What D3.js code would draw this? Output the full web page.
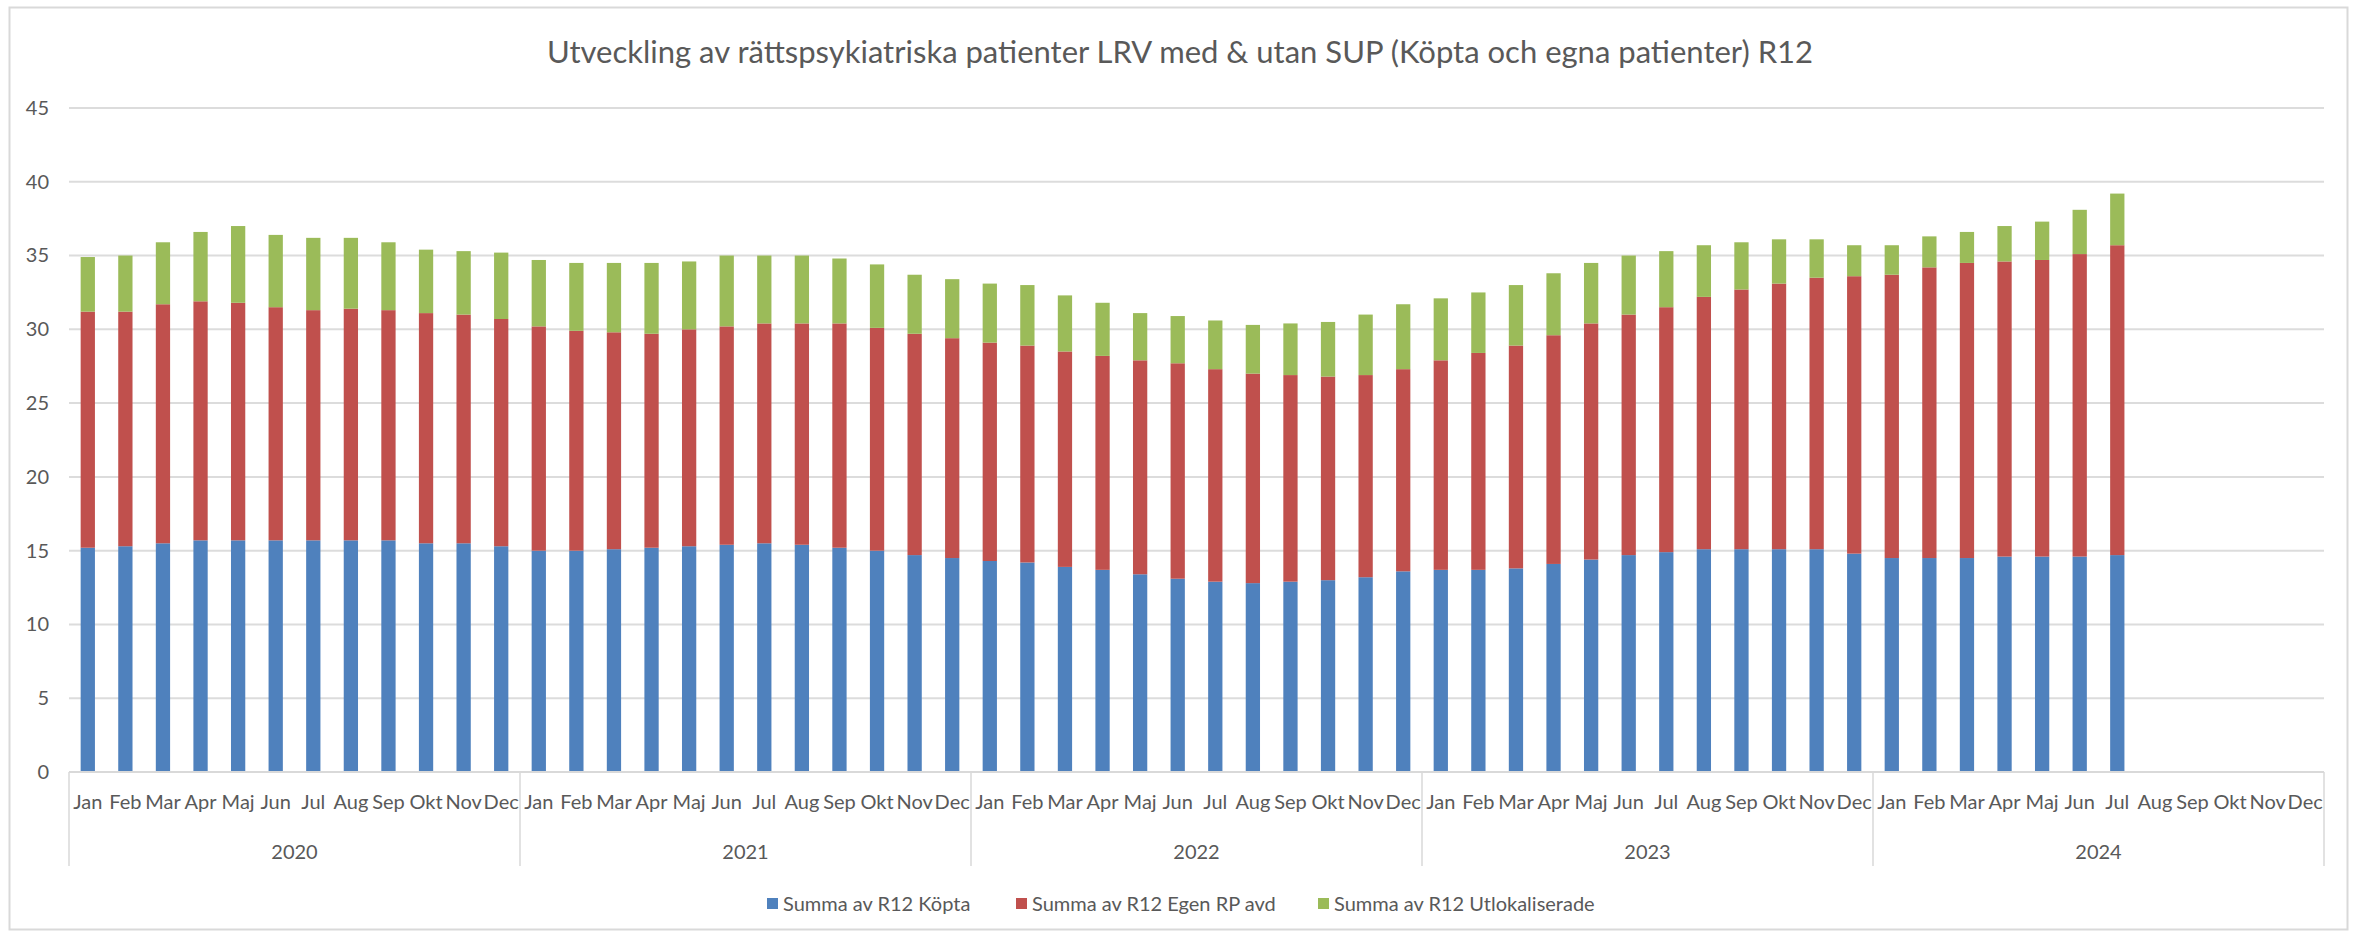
<!DOCTYPE html>
<html>
<head>
<meta charset="utf-8">
<script src="https://cdn.jsdelivr.net/npm/d3@7"></script>
<style>
  body { margin: 0; background: #fff; }
  text { font-family: Lato, "Liberation Sans", sans-serif; fill: #595959; }
</style>
</head>
<body>
<div id="chart"></div>
<script>
// categories
var years = ["2020", "2021", "2022", "2023", "2024"];
var months = ["Jan","Feb","Mar","Apr","Maj","Jun","Jul","Aug","Sep","Okt","Nov","Dec"];

// series values, Jan 2020 - Jul 2024
var kopta = [
  15.2,15.3,15.5,15.7,15.7,15.7,15.7,15.7,15.7,15.5,15.5,15.3,
  15.0,15.0,15.1,15.2,15.3,15.4,15.5,15.4,15.2,15.0,14.7,14.5,
  14.3,14.2,13.9,13.7,13.4,13.1,12.9,12.8,12.9,13.0,13.2,13.6,
  13.7,13.7,13.8,14.1,14.4,14.7,14.9,15.1,15.1,15.1,15.1,14.8,
  14.5,14.5,14.5,14.6,14.6,14.6,14.7
];
var egenRP = [
  16.0,15.9,16.2,16.2,16.1,15.8,15.6,15.7,15.6,15.6,15.5,15.4,
  15.2,14.9,14.7,14.5,14.7,14.8,14.9,15.0,15.2,15.1,15.0,14.9,
  14.8,14.7,14.6,14.5,14.5,14.6,14.4,14.2,14.0,13.8,13.7,13.7,
  14.2,14.7,15.1,15.5,16.0,16.3,16.6,17.1,17.6,18.0,18.4,18.8,
  19.2,19.7,20.0,20.0,20.1,20.5,21.0
];
var utlokaliserade = [
  3.7,3.8,4.2,4.7,5.2,4.9,4.9,4.8,4.6,4.3,4.3,4.5,
  4.5,4.6,4.7,4.8,4.6,4.8,4.6,4.6,4.4,4.3,4.0,4.0,
  4.0,4.1,3.8,3.6,3.2,3.2,3.3,3.3,3.5,3.7,4.1,4.4,
  4.2,4.1,4.1,4.2,4.1,4.0,3.8,3.5,3.2,3.0,2.6,2.1,
  2.0,2.1,2.1,2.4,2.6,3.0,3.5
];
var seriesNames = ["Summa av R12 Köpta", "Summa av R12 Egen RP avd", "Summa av R12 Utlokaliserade"];
var seriesColors = ["#4F81BD", "#C0504D", "#9BBB59"];
var yTicks = [0,5,10,15,20,25,30,35,40,45];

var W = 2363, H = 936;
var margin = { top: 108, right: 39, bottom: 164, left: 69 };

var svg = d3.select("#chart").append("svg")
    .attr("width", W).attr("height", H);

// outer frame
svg.append("rect")
    .attr("x", 9.5).attr("y", 7.5)
    .attr("width", 2338).attr("height", 922)
    .attr("fill", "none").attr("stroke", "#d9d9d9").attr("stroke-width", 2);

// build category rows
var cats = [];
years.forEach(function(yr){
    months.forEach(function(m){ cats.push({ year: yr, month: m, key: yr + "-" + m }); });
});
var rows = cats.map(function(c, i){
    return { key: c.key, year: c.year, month: c.month,
             k: kopta[i], e: egenRP[i], u: utlokaliserade[i] };
});

var x = d3.scaleBand()
    .domain(cats.map(function(c){ return c.key; }))
    .range([margin.left, W - margin.right])
    .paddingInner(0.62)
    .paddingOuter(0.31);

var y = d3.scaleLinear()
    .domain([0, 45])
    .range([H - margin.bottom, margin.top]);

// gridlines
svg.append("g").selectAll("line").data(yTicks).enter().append("line")
    .attr("x1", margin.left).attr("x2", W - margin.right)
    .attr("y1", function(d){ return y(d); }).attr("y2", function(d){ return y(d); })
    .attr("stroke", "#dcdcdc").attr("stroke-width", 2);

// y axis labels
var yAxis = d3.axisLeft(y).tickValues(yTicks).tickSize(0).tickPadding(20);
var gy = svg.append("g")
    .attr("transform", "translate(" + margin.left + ",0)")
    .call(yAxis);
gy.select(".domain").remove();
gy.selectAll("text").attr("font-size", "20px").attr("fill", "#595959")
    .style("font-family", "Lato, 'Liberation Sans', sans-serif");

// stacked bars
var stack = d3.stack().keys(["k", "e", "u"]);
var stacked = stack(rows.filter(function(r){ return r.k != null; }));

svg.append("g").selectAll("g").data(stacked).enter().append("g")
    .attr("fill", function(d, i){ return seriesColors[i]; })
    .selectAll("rect").data(function(d){ return d; }).enter().append("rect")
    .attr("x", function(d){ return x(d.data.key); })
    .attr("width", x.bandwidth())
    .attr("y", function(d){ return y(d[1]); })
    .attr("height", function(d){ return y(d[0]) - y(d[1]); });

// category axis (month + year rows)
var base = y(0);
var boxBottom = 866;
var axisG = svg.append("g");
axisG.append("line")
    .attr("x1", margin.left).attr("x2", W - margin.right)
    .attr("y1", base).attr("y2", base)
    .attr("stroke", "#d9d9d9").attr("stroke-width", 2);

axisG.selectAll(".mlab").data(cats).enter().append("text")
    .attr("class", "mlab")
    .attr("x", function(d){ return x(d.key) + x.bandwidth() / 2; })
    .attr("y", 809)
    .attr("text-anchor", "middle")
    .attr("font-size", "20px")
    .text(function(d){ return d.month; });

var yearStep = x.step() * 12;
var yearEdges = d3.range(years.length + 1).map(function(i){ return margin.left + i * yearStep; });
axisG.selectAll(".ydiv").data(yearEdges).enter().append("line")
    .attr("x1", function(d){ return d; }).attr("x2", function(d){ return d; })
    .attr("y1", base).attr("y2", boxBottom)
    .attr("stroke", "#d9d9d9").attr("stroke-width", 1.5);

axisG.selectAll(".ylab").data(years).enter().append("text")
    .attr("x", function(d, i){ return margin.left + (i + 0.5) * yearStep; })
    .attr("y", 859)
    .attr("text-anchor", "middle")
    .attr("font-size", "20px")
    .text(function(d){ return d; });

// title
svg.append("text")
    .attr("x", 1180).attr("y", 63)
    .attr("text-anchor", "middle")
    .attr("font-size", "31px")
    .text("Utveckling av rättspsykiatriska patienter LRV med & utan SUP (Köpta och egna patienter) R12");

// legend
var legendX = [767, 1016, 1318];
var lg = svg.append("g").selectAll("g").data(seriesNames).enter().append("g")
    .attr("transform", function(d, i){ return "translate(" + legendX[i] + ",904)"; });
lg.append("rect")
    .attr("x", 0).attr("y", -6).attr("width", 11).attr("height", 11)
    .attr("fill", function(d, i){ return seriesColors[i]; });
lg.append("text")
    .attr("x", 16).attr("y", 7)
    .attr("font-size", "20px")
    .text(function(d){ return d; });
</script>
</body>
</html>
